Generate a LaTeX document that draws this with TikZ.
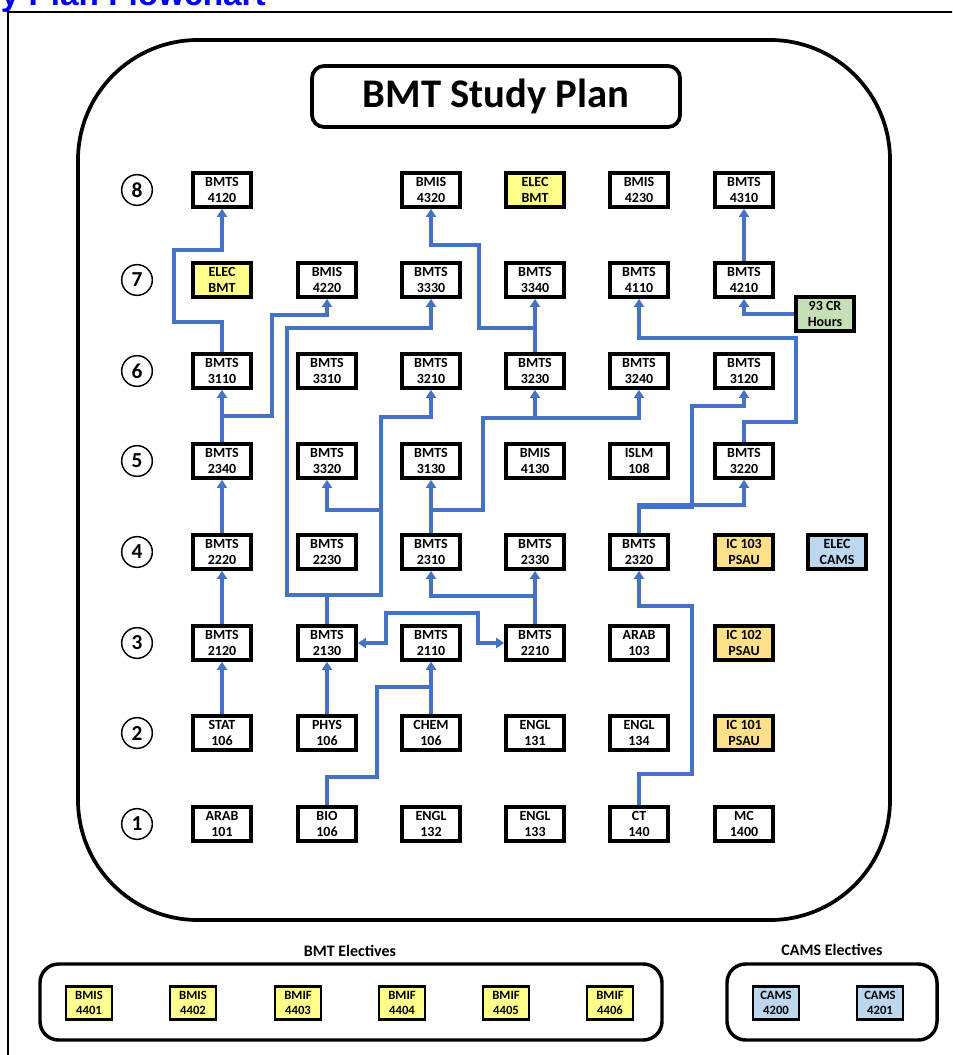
\documentclass[tikz,border=0pt]{standalone}
\usepackage{fontspec}
\setmainfont{Carlito}
\newfontfamily\arialfont{Liberation Sans}
\usetikzlibrary{arrows.meta}
\definecolor{celyellow}{HTML}{FFFF8C}
\definecolor{celorange}{HTML}{FFE08A}
\definecolor{celblue}{HTML}{BDD7EE}
\definecolor{celgreen}{HTML}{C5E0B4}
\definecolor{connblue}{HTML}{4472C4}
\definecolor{ttlblue}{HTML}{0000F0}
\tikzset{
  course/.style={draw, line width=2.8pt, fill=white, minimum width=43.5pt, minimum height=25.5pt, inner sep=0pt, align=center, font=\fontsize{10.5}{12}\selectfont\bfseries},
  elecbmt/.style={course, fill=celyellow},
  psau/.style={course, fill=celorange},
  camsbox/.style={course, fill=celblue},
  crbox/.style={course, fill=celgreen},
  smallcourse/.style={draw, line width=2pt, minimum width=34.5pt, minimum height=24.75pt, inner sep=0pt, align=center, font=\fontsize{9.5}{11.5}\selectfont\bfseries},
  rownum/.style={draw, circle, line width=1.1pt, minimum size=23pt, inner sep=0pt, font=\fontsize{16}{16}\selectfont\bfseries},
  conn/.style={draw=connblue, line width=2.7pt, -{Triangle[width=7.5pt,length=6pt]}},
  grouplabel/.style={font=\fontsize{12}{14}\selectfont\bfseries}
}
\begin{document}
\begin{tikzpicture}[x=0.75pt,y=-0.75pt]
\useasboundingbox (0,0) rectangle (952,1055);
\clip (0,0) rectangle (952,1055);
\fill[white] (0,0) rectangle (952,1055);
% cropped heading
\node[anchor=base east, inner sep=0pt, text=ttlblue, font=\arialfont\bfseries\fontsize{25}{25}\selectfont] (heading) at (266,6) {Study Plan Flowchart};
% outer frame
\draw[line width=1.8pt] (8,12) rectangle (970,1075);
% main rounded frame
\draw[line width=2.8pt, rounded corners=90pt] (78,40) rectangle (890,920);
% title box
\node[draw, line width=2.8pt, rounded corners=9pt, minimum width=276pt, minimum height=45.75pt, inner sep=0pt, font=\fontsize{30.5}{31}\selectfont\bfseries] (title) at (496,96.5) {BMT Study Plan};

% row numbers
\foreach \n/\y in {8/190,7/280,6/371,5/461,4/552,3/643,2/733,1/824}
  \node[rownum] (row\n) at (137,\y) {\n};

% row 8
\node[course] (b4120) at (222,190) {BMTS\\4120};
\node[course] (b4320) at (431,190) {BMIS\\4320};
\node[elecbmt] (eb8) at (535,190) {ELEC\\BMT};
\node[course] (b4230) at (639,190) {BMIS\\4230};
\node[course] (b4310) at (744,190) {BMTS\\4310};
% row 7
\node[elecbmt] (eb7) at (222,280) {ELEC\\BMT};
\node[course] (b4220) at (327,280) {BMIS\\4220};
\node[course] (b3330) at (431,280) {BMTS\\3330};
\node[course] (b3340) at (535,280) {BMTS\\3340};
\node[course] (b4110) at (639,280) {BMTS\\4110};
\node[course] (b4210) at (744,280) {BMTS\\4210};
\node[crbox] (cr93) at (825,314) {93 CR\\Hours};
% row 6
\node[course] (b3110) at (222,371) {BMTS\\3110};
\node[course] (b3310) at (327,371) {BMTS\\3310};
\node[course] (b3210) at (431,371) {BMTS\\3210};
\node[course] (b3230) at (535,371) {BMTS\\3230};
\node[course] (b3240) at (639,371) {BMTS\\3240};
\node[course] (b3120) at (744,371) {BMTS\\3120};
% row 5
\node[course] (b2340) at (222,461) {BMTS\\2340};
\node[course] (b3320) at (327,461) {BMTS\\3320};
\node[course] (b3130) at (431,461) {BMTS\\3130};
\node[course] (b4130) at (535,461) {BMIS\\4130};
\node[course] (islm) at (639,461) {ISLM\\108};
\node[course] (b3220) at (744,461) {BMTS\\3220};
% row 4
\node[course] (b2220) at (222,552) {BMTS\\2220};
\node[course] (b2230) at (327,552) {BMTS\\2230};
\node[course] (b2310) at (431,552) {BMTS\\2310};
\node[course] (b2330) at (535,552) {BMTS\\2330};
\node[course] (b2320) at (639,552) {BMTS\\2320};
\node[psau] (ic103) at (744,552) {IC 103\\PSAU};
\node[camsbox] (eleccams) at (837,552) {ELEC\\CAMS};
% row 3
\node[course] (b2120) at (222,643) {BMTS\\2120};
\node[course] (b2130) at (327,643) {BMTS\\2130};
\node[course] (b2110) at (431,643) {BMTS\\2110};
\node[course] (b2210) at (535,643) {BMTS\\2210};
\node[course] (arab103) at (639,643) {ARAB\\103};
\node[psau] (ic102) at (744,643) {IC 102\\PSAU};
% row 2
\node[course] (stat) at (222,733) {STAT\\106};
\node[course] (phys) at (327,733) {PHYS\\106};
\node[course] (chem) at (431,733) {CHEM\\106};
\node[course] (engl131) at (535,733) {ENGL\\131};
\node[course] (engl134) at (639,733) {ENGL\\134};
\node[psau] (ic101) at (744,733) {IC 101\\PSAU};
% row 1
\node[course] (arab101) at (222,824) {ARAB\\101};
\node[course] (bio) at (327,824) {BIO\\106};
\node[course] (engl132) at (431,824) {ENGL\\132};
\node[course] (engl133) at (535,824) {ENGL\\133};
\node[course] (ct) at (639,824) {CT\\140};
\node[course] (mc) at (744,824) {MC\\1400};

% connectors
\draw[conn] (b3110.north) |- (174,322) -- (174,250) -| (b4120.south);
\draw[conn] (b2340.north) -- (b3110.south);
\draw[conn] (b2340.north) |- (272,416) -- (272,315) -| (b4220.south);
\draw[conn] (b2220.north) -- (b2340.south);
\draw[conn] (b2120.north) -- (b2220.south);
\draw[conn] (stat.north) -- (b2120.south);
\draw[conn] (phys.north) -- (b2130.south);
\draw[conn] (b2130.north) |- (287,595) -- (287,328) -| (b3330.south);
\draw[conn] (b2130.north) |- (381,595) -- (381,417) -| (b3210.south);
\draw[conn] (b2130.north) |- (381,595) -- (381,510) -| (b3320.south);
\draw[conn] (chem.north) -- (b2110.south);
\draw[conn] (bio.north) |- (377,777) -- (377,687) -| (b2110.south);
\draw[conn, {Triangle[width=7.5pt,length=6pt]}-{Triangle[width=7.5pt,length=6pt]}] (b2130.east) -- (386,643) -- (386,613) -- (478,613) |- (b2210.west);
\draw[conn] (b2210.north) -- (b2330.south);
\draw[conn] (b2210.north) -- ++(0,-28) -| (b2310.south);
\draw[conn] (b2310.north) -- (b3130.south);
\draw[conn] (b2310.north) |- (483,510) -- (483,418) -| (b3240.south);
\draw[conn] (b2310.north) |- (483,510) -- (483,418) -| (b3230.south);
\draw[conn] (b3230.north) -- (b3340.south);
\draw[conn] (b3230.north) |- (479,328) -- (479,245) -| (b4320.south);
\draw[conn] (b3220.north) |- (796,422) -- (796,338) -| (b4110.south);
\draw[conn] (b2320.north) |- (692,507) -- (692,406) -| (b3120.south);
\draw[conn] (b2320.north) -- ++(0,-28) -| (b3220.south);
\draw[conn] (ct.north) |- (692,774) -- (692,606) -| (b2320.south);
\draw[conn] (b4210.north) -- (b4310.south);
\draw[conn] (cr93.west) -| (b4210.south);

% electives
\node[grouplabel] (bmtlbl) at (350,951) {BMT Electives};
\node[grouplabel] (camslbl) at (832,950) {CAMS Electives};
\draw[line width=2.6pt, rounded corners=14pt] (40,964) rectangle (662,1040);
\draw[line width=2.6pt, rounded corners=14pt] (727,964) rectangle (937,1040);
\node[smallcourse, fill=celyellow] (e4401) at (89,1003) {BMIS\\4401};
\node[smallcourse, fill=celyellow] (e4402) at (193,1003) {BMIS\\4402};
\node[smallcourse, fill=celyellow] (e4403) at (298,1003) {BMIF\\4403};
\node[smallcourse, fill=celyellow] (e4404) at (402,1003) {BMIF\\4404};
\node[smallcourse, fill=celyellow] (e4405) at (506,1003) {BMIF\\4405};
\node[smallcourse, fill=celyellow] (e4406) at (610,1003) {BMIF\\4406};
\node[smallcourse, fill=celblue] (c4200) at (776,1003) {CAMS\\4200};
\node[smallcourse, fill=celblue] (c4201) at (880,1003) {CAMS\\4201};
\end{tikzpicture}
\end{document}
